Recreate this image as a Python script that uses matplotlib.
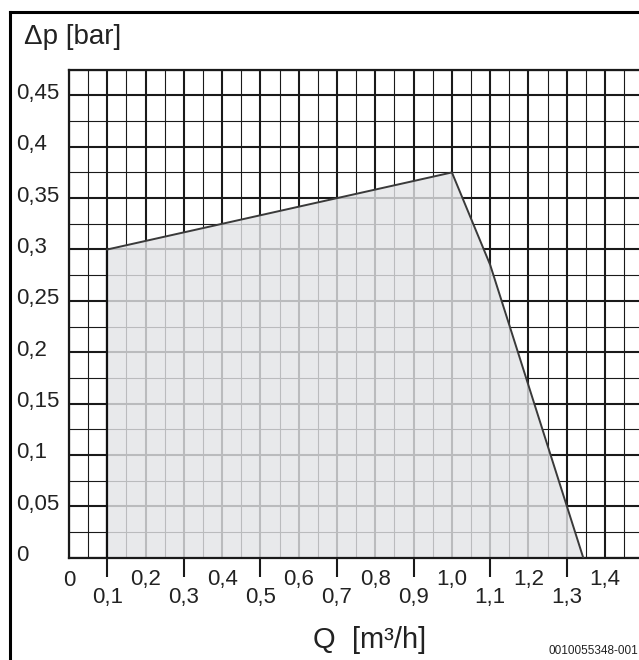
import matplotlib
matplotlib.use("Agg")
import matplotlib.pyplot as plt
from matplotlib.patches import Polygon
import matplotlib.transforms as mtransforms

plt.rcParams['font.family'] = ['Liberation Sans Narrow', 'Liberation Sans', 'DejaVu Sans']

# pump curve (residual head)
q_curve = [0.1, 0.1, 1.0, 1.1, 1.343]
dp_curve = [0.0, 0.30, 0.375, 0.285, 0.0]

x_ticks = [0.0, 0.1, 0.2, 0.3, 0.4, 0.5, 0.6, 0.7, 0.8, 0.9, 1.0, 1.1, 1.2, 1.3, 1.4]
x_labels = ['0', '0,1', '0,2', '0,3', '0,4', '0,5', '0,6', '0,7', '0,8', '0,9',
            '1,0', '1,1', '1,2', '1,3', '1,4']
y_ticks = [0.0, 0.05, 0.1, 0.15, 0.2, 0.25, 0.3, 0.35, 0.4, 0.45]
y_labels = ['0', '0,05', '0,1', '0,15', '0,2', '0,25', '0,3', '0,35', '0,4', '0,45']

W, H = 639, 660
fig = plt.figure(figsize=(W / 100, H / 100), dpi=100)
ax = fig.add_axes([69 / W, (H - 557.7) / H, 1 - 69 / W, (557.7 - 69.7) / H])
ax.set_xlim(0, (W - 69) / 382.9)
ax.set_ylim(0, 0.475)

# grid: thick every 0.1 / 0.05, thin in between
for i in range(31):
    x = i * 0.05
    thick = i % 2 == 0
    ax.axvline(x, color='#1a1a1a', lw=1.5 if thick else 0.8, zorder=1)
for j in range(20):
    y = j * 0.025
    thick = j % 2 == 0
    ax.axhline(y, color='#1a1a1a', lw=1.5 if thick else 0.8, zorder=1)

# shaded working range
poly = Polygon(list(zip(q_curve, dp_curve)), closed=True, facecolor=(227/255, 228/255, 231/255),
               alpha=0.8, edgecolor='none', zorder=2)
ax.add_patch(poly)
ax.plot(q_curve[:2], dp_curve[:2], color='#111111', lw=1.6, zorder=3)
ax.plot(q_curve[1:], dp_curve[1:], color='#3a3a3a', lw=1.4, zorder=3)

ax.spines['right'].set_visible(False)
for s in ['left', 'bottom', 'top']:
    ax.spines[s].set_linewidth(1.6)
    ax.spines[s].set_color('#1a1a1a')

ax.set_yticks([])
ax.set_xticks(x_ticks[1::2])
ax.set_xticklabels([])
ax.tick_params(axis='x', direction='out', length=13.5, width=1.5, color='#1a1a1a')

# x labels staggered: even tenths high, odd tenths low
tx = mtransforms.blended_transform_factory(ax.transData, fig.transFigure)
for k, (x, lab) in enumerate(zip(x_ticks, x_labels)):
    yy = (H - 580) / H if k % 2 == 0 else (H - 598) / H
    ax.text(x, yy, lab, transform=tx, ha='center', va='center', fontsize=16, color='#222222')

ty = mtransforms.blended_transform_factory(fig.transFigure, ax.transData)
for y, lab in zip(y_ticks, y_labels):
    ax.text(16 / W, y + 0.002, lab, transform=ty, ha='left', va='center', fontsize=16, color='#222222')

fig.text(24 / W, (H - 37) / H, 'Δp [bar]', ha='left', va='center', fontsize=20, color='#222222')
fig.text(313 / W, (H - 640) / H, 'Q  [m³/h]', ha='left', va='center', fontsize=21, color='#222222')
fig.text(638 / W, (H - 651) / H, '0010055348-001', ha='right', va='center', fontsize=8.5,
         family=['Liberation Sans', 'DejaVu Sans'], color='#222222')

# outer frame (left and top only)
fig.add_artist(plt.Line2D([10 / W, 10 / W], [0, (H - 12) / H], color='black', lw=2.2,
                          transform=fig.transFigure))
fig.add_artist(plt.Line2D([10 / W, 1], [(H - 12) / H, (H - 12) / H], color='black', lw=2.2,
                          transform=fig.transFigure))

fig.savefig('out.png', dpi=100)
